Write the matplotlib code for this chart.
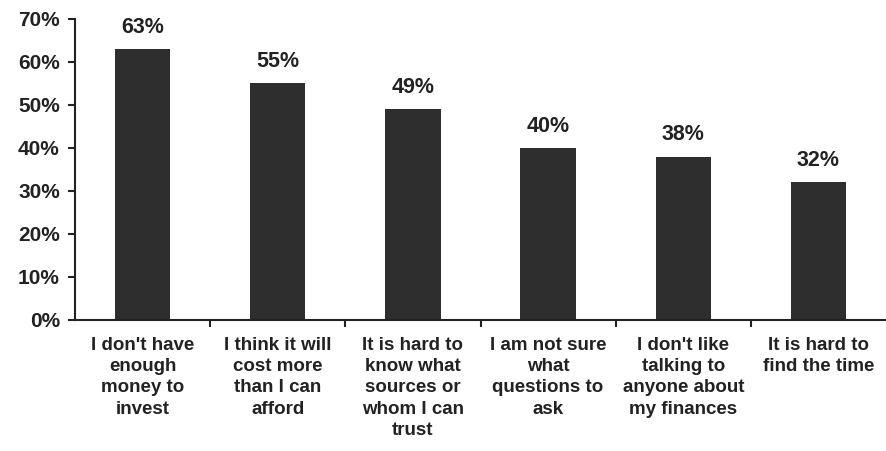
import matplotlib.pyplot as plt
from matplotlib.ticker import FixedLocator

categories = [
    "I don't have\nenough\nmoney to\ninvest",
    "I think it will\ncost more\nthan I can\nafford",
    "It is hard to\nknow what\nsources or\nwhom I can\ntrust",
    "I am not sure\nwhat\nquestions to\nask",
    "I don't like\ntalking to\nanyone about\nmy finances",
    "It is hard to\nfind the time",
]
values = [63, 55, 49, 40, 38, 32]
y_ticks = [0, 10, 20, 30, 40, 50, 60, 70]

plt.rcParams['font.family'] = ['Liberation Sans', 'DejaVu Sans']
plt.rcParams['font.weight'] = 'bold'

fig = plt.figure(figsize=(8.86, 4.51), dpi=100)
ax = fig.add_axes([0.0847, 0.2905, 0.9153, 0.6675])

x = list(range(len(values)))
bars = ax.bar(x, values, width=0.41, color='#2e2e2e')

for xi, v in zip(x, values):
    ax.annotate(f"{v}%", (xi, v), xytext=(0, 8), textcoords='offset points',
                ha='center', va='bottom', fontsize=15.5, fontweight='bold', color='#222222')

ax.set_xlim(-0.5, 5.5)
ax.set_ylim(0, 70)
ax.set_yticks(y_ticks)
ax.set_yticklabels([f"{t}%" for t in y_ticks], fontsize=15, fontweight='bold', color='#222222')
ax.set_xticks(x)
ax.set_xticklabels(categories, fontsize=13.5, fontweight='bold', color='#222222', linespacing=1.33)
ax.tick_params(axis='x', length=0, pad=12)
ax.xaxis.set_minor_locator(FixedLocator([i + 0.5 for i in range(5)]))
ax.tick_params(axis='x', which='minor', length=5, width=1.5, color='#222222', direction='out')
ax.tick_params(axis='y', length=5, width=1.5, color='#222222', direction='out', pad=6)

for side in ['top', 'right']:
    ax.spines[side].set_visible(False)
for side in ['left', 'bottom']:
    ax.spines[side].set_linewidth(1.5)
    ax.spines[side].set_color('#222222')

fig.savefig("out.png", dpi=100)
